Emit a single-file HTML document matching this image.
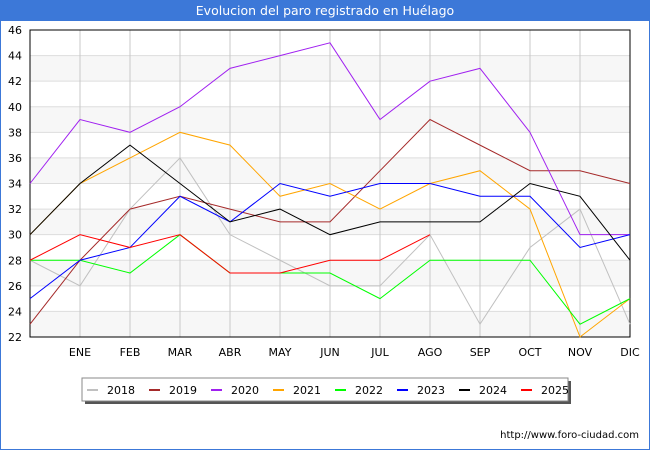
<!DOCTYPE html>
<html><head><meta charset="utf-8"><style>
body{margin:0;background:#fff;font-family:"Liberation Sans","DejaVu Sans",sans-serif}
#wrap{position:relative;width:650px;height:450px;overflow:hidden}
</style></head><body>
<div id="wrap">
<svg id="svg" width="650" height="450" xmlns="http://www.w3.org/2000/svg">
<rect x="0" y="0" width="650" height="450" fill="#fff" stroke="#3c78d8" stroke-width="2"/>
<rect x="0" y="0" width="650" height="21" fill="#3c78d8"/>
<text x="325" y="15" text-anchor="middle" font-size="12.5" fill="#fff" font-family="DejaVu Sans, sans-serif">Evolucion del paro registrado en Huélago</text>
<g id="plot"></g>
<text x="639" y="438" text-anchor="end" font-size="10" fill="#000" font-family="DejaVu Sans, sans-serif">http://www.foro-ciudad.com</text>
</svg>
</div>
<script>
const months = ["", "ENE","FEB","MAR","ABR","MAY","JUN","JUL","AGO","SEP","OCT","NOV","DIC"];
const yTicks = [22,24,26,28,30,32,34,36,38,40,42,44,46];
const years = ["2018","2019","2020","2021","2022","2023","2024","2025"];
const colors = ["#c0c0c0","#a52a2a","#a020f0","#ffa500","#00ff00","#0000ff","#000000","#ff0000"];
const s2018 = [28,26,32,36,30,28,26,26,30,23,29,32,23];
const s2019 = [23,28,32,33,32,31,31,35,39,37,35,35,34];
const s2020 = [34,39,38,40,43,44,45,39,42,43,38,30,30];
const s2021 = [30,34,36,38,37,33,34,32,34,35,32,22,25];
const s2022 = [28,28,27,30,27,27,27,25,28,28,28,23,25];
const s2023 = [25,28,29,33,31,34,33,34,34,33,33,29,30];
const s2024 = [30,34,37,34,31,32,30,31,31,31,34,33,28];
const s2025 = [28,30,29,30,27,27,28,28,30];
const series = [s2018,s2019,s2020,s2021,s2022,s2023,s2024,s2025];

const NS="http://www.w3.org/2000/svg";
const g=document.getElementById('plot');
const X0=30,X1=630,Y0=30,Y1=337,YMIN=22,YMAX=46;
const xs=i=>X0+i*(X1-X0)/12;
const ys=v=>Y1-(v-YMIN)*(Y1-Y0)/(YMAX-YMIN);
function mk(t,a){const e=document.createElementNS(NS,t);for(const k in a)e.setAttribute(k,a[k]);g.appendChild(e);return e;}
// bands
for(let i=0;i<yTicks.length-1;i++){
  if(i%2===0){const b=mk('rect',{x:X0,y:ys(yTicks[i+1]),width:X1-X0,height:ys(yTicks[i])-ys(yTicks[i+1]),fill:'#f7f7f7'});
  
  }
}
yTicks.forEach(v=>{
  const l=mk('line',{x1:X0,x2:X1,y1:ys(v),y2:ys(v),stroke:'#dddddd','stroke-width':1});
  
  
  const t=mk('text',{x:X0-8,y:ys(v)+4,'text-anchor':'end','font-size':11,fill:'#000','font-family':'DejaVu Sans, sans-serif'});
  t.textContent=v;
  
  
});
months.forEach((m,i)=>{
  if(i===0)return;
  const l=mk('line',{x1:xs(i),x2:xs(i),y1:Y0,y2:Y1,stroke:'#c8c8c8','stroke-width':1});
  
  
  const t=mk('text',{x:xs(i),y:356,'text-anchor':'middle','font-size':11,fill:'#000','font-family':'DejaVu Sans, sans-serif'});
  t.textContent=m;
  
  
});
const fr=mk('rect',{x:X0,y:Y0,width:X1-X0,height:Y1-Y0,fill:'none',stroke:'#000','stroke-width':1});


series.forEach((s,k)=>{
  const p=mk('polyline',{points:s.map((v,i)=>xs(i)+','+ys(v)).join(' '),fill:'none',stroke:colors[k],'stroke-width':1});
  
  
});
// legend
const sh=mk('rect',{x:85,y:381,width:486,height:23,fill:'#555'});


const lb=mk('rect',{x:82,y:378,width:486,height:23,fill:'#fff',stroke:'#888'});


years.forEach((y,k)=>{
  const x=87+k*62;
  const sw=mk('line',{x1:x,x2:x+11,y1:390,y2:390,stroke:colors[k],'stroke-width':2});
  
  
  const t=mk('text',{x:x+20,y:394,'font-size':11,fill:'#000','font-family':'DejaVu Sans, sans-serif'});
  t.textContent=y;
  
  
});
</script>
</body></html>
